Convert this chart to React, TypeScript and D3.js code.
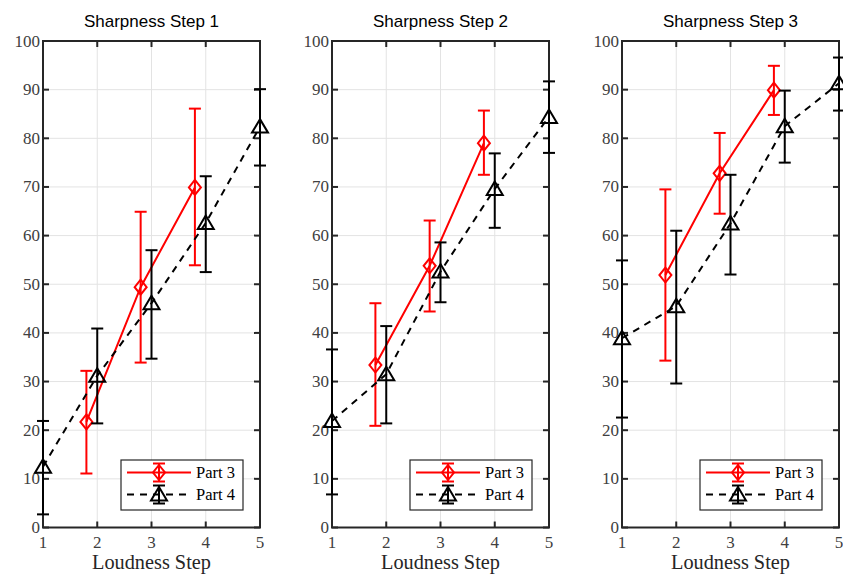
import React from "react";
import * as d3 from "d3";

// Sharpness steps shown as three side-by-side panels
const panelTitles = ["Sharpness Step 1", "Sharpness Step 2", "Sharpness Step 3"];
const seriesNames = ["Part 3", "Part 4"];

// Loudness steps (Part 4 measured on the integer steps, Part 3 shifted left)
const part4Steps = [1, 2, 3, 4, 5];
const part3Steps = [1.8, 2.8, 3.8];

// Part 3 means and error bar limits per panel
const part3Mean = [
  [21.7, 49.4, 69.9],
  [33.4, 53.8, 79.0],
  [51.9, 72.8, 89.9],
];
const part3High = [
  [32.2, 64.9, 86.1],
  [46.1, 63.1, 85.7],
  [69.5, 81.1, 94.9],
];
const part3Low = [
  [11.1, 33.9, 53.9],
  [20.9, 44.4, 72.5],
  [34.3, 64.5, 84.8],
];

// Part 4 means and error bar limits per panel
const part4Mean = [
  [12.5, 31.2, 46.1, 62.6, 82.4],
  [21.9, 31.5, 52.6, 69.6, 84.4],
  [38.9, 45.5, 62.5, 82.5, 91.3],
];
const part4High = [
  [21.9, 40.9, 57.0, 72.2, 90.1],
  [36.6, 41.4, 58.6, 76.9, 91.7],
  [54.9, 61.0, 72.5, 89.8, 96.6],
];
const part4Low = [
  [2.7, 21.4, 34.7, 52.5, 74.4],
  [6.8, 21.4, 46.3, 61.6, 77.0],
  [22.6, 29.6, 52.0, 75.0, 85.7],
];

const xTicks = [1, 2, 3, 4, 5];
const yTicks = [0, 10, 20, 30, 40, 50, 60, 70, 80, 90, 100];
const xLabel = "Loudness Step";

const W = 843;
const H = 576;
const panelLefts = [43, 332, 622];
const panelWidth = 217;
const top = 41;
const bottom = 527.5;

const RED = "#ff0000";
const BLACK = "#000000";
const AXIS = "#262626";
const TICKTXT = "#404040";
const GRID = "#e3e3e3";
const SERIF = "'Liberation Serif', 'DejaVu Serif', serif";
const SANS = "'Liberation Sans', Arial, sans-serif";
const DASH = "7,6";

const CAP = 6;

function diamondPath(cx: number, cy: number) {
  return `M${cx},${cy - 7.5}L${cx + 6},${cy}L${cx},${cy + 7.5}L${cx - 6},${cy}Z`;
}
function trianglePath(cx: number, cy: number) {
  return `M${cx},${cy - 7.5}L${cx + 8},${cy + 6}L${cx - 8},${cy + 6}Z`;
}

function ErrorBar({ x, y1, y2, color }: { x: number; y1: number; y2: number; color: string }) {
  return (
    <g stroke={color} strokeWidth={2} fill="none">
      <line x1={x} x2={x} y1={y1} y2={y2} />
      <line x1={x - CAP} x2={x + CAP} y1={y1} y2={y1} />
      <line x1={x - CAP} x2={x + CAP} y1={y2} y2={y2} />
    </g>
  );
}

function Panel({ idx }: { idx: number }) {
  const left = panelLefts[idx];
  const right = left + panelWidth;
  const x = d3.scaleLinear().domain([1, 5]).range([left, right]);
  const y = d3.scaleLinear().domain([0, 100]).range([bottom, top]);
  const line = d3
    .line<[number, number]>()
    .x((d) => x(d[0]))
    .y((d) => y(d[1]));

  const p3 = part3Steps.map((s, i) => [s, part3Mean[idx][i]] as [number, number]);
  const p4 = part4Steps.map((s, i) => [s, part4Mean[idx][i]] as [number, number]);

  const legX = right - 139;
  const legY = bottom - 67.5;
  const row1 = legY + 12.5;
  const row2 = legY + 34.5;
  const legMarkX = legX + 38;

  return (
    <g>
      {/* grid */}
      {xTicks.slice(1, -1).map((t) => (
        <line key={"gx" + t} x1={x(t)} x2={x(t)} y1={top} y2={bottom} stroke={GRID} strokeWidth={1} />
      ))}
      {yTicks.slice(1, -1).map((t) => (
        <line key={"gy" + t} x1={left} x2={right} y1={y(t)} y2={y(t)} stroke={GRID} strokeWidth={1} />
      ))}

      {/* axes box and inward ticks */}
      <rect x={left} y={top} width={right - left} height={bottom - top} fill="none" stroke={AXIS} strokeWidth={2} />
      {xTicks.map((t) => (
        <g key={"tx" + t} stroke={AXIS} strokeWidth={2}>
          <line x1={x(t)} x2={x(t)} y1={bottom} y2={bottom - 6} />
          <line x1={x(t)} x2={x(t)} y1={top} y2={top + 6} />
        </g>
      ))}
      {yTicks.map((t) => (
        <g key={"ty" + t} stroke={AXIS} strokeWidth={2}>
          <line x1={left} x2={left + 6} y1={y(t)} y2={y(t)} />
          <line x1={right} x2={right - 6} y1={y(t)} y2={y(t)} />
        </g>
      ))}

      {/* tick labels */}
      {xTicks.map((t) => (
        <text key={"lx" + t} x={x(t)} y={bottom + 20} textAnchor="middle" fontFamily={SERIF} fontSize={17} fill={TICKTXT}>
          {t}
        </text>
      ))}
      {yTicks.map((t) => (
        <text key={"ly" + t} x={left - 3} y={y(t) + 5.5} textAnchor="end" fontFamily={SERIF} fontSize={17} fill={TICKTXT}>
          {t}
        </text>
      ))}

      <text x={(left + right) / 2} y={569} textAnchor="middle" fontFamily={SERIF} fontSize={20.3} fill={AXIS}>
        {xLabel}
      </text>
      <text x={(left + right) / 2} y={top - 14} textAnchor="middle" fontFamily={SANS} fontSize={17} fill="#000">
        {panelTitles[idx]}
      </text>

      {/* Part 3 */}
      <path d={line(p3) ?? ""} fill="none" stroke={RED} strokeWidth={2} />
      {part3Steps.map((s, i) => (
        <ErrorBar key={"e3" + i} x={x(s)} y1={y(part3High[idx][i])} y2={y(part3Low[idx][i])} color={RED} />
      ))}
      {p3.map((d, i) => (
        <path key={"m3" + i} d={diamondPath(x(d[0]), y(d[1]))} fill="none" stroke={RED} strokeWidth={2} />
      ))}

      {/* Part 4 */}
      <path d={line(p4) ?? ""} fill="none" stroke={BLACK} strokeWidth={2} strokeDasharray={DASH} />
      {part4Steps.map((s, i) => (
        <ErrorBar key={"e4" + i} x={x(s)} y1={y(part4High[idx][i])} y2={y(part4Low[idx][i])} color={BLACK} />
      ))}
      {p4.map((d, i) => (
        <path key={"m4" + i} d={trianglePath(x(d[0]), y(d[1]))} fill="none" stroke={BLACK} strokeWidth={2} />
      ))}

      {/* legend */}
      <rect x={legX} y={legY} width={122} height={50} fill="#fff" stroke={AXIS} strokeWidth={1.2} />
      <line x1={legX + 6} x2={legX + 70} y1={row1} y2={row1} stroke={RED} strokeWidth={2} />
      <ErrorBar x={legMarkX} y1={row1 - 9} y2={row1 + 9} color={RED} />
      <path d={diamondPath(legMarkX, row1)} fill="none" stroke={RED} strokeWidth={2} />
      <text x={legX + 75} y={row1 + 5.5} fontFamily={SERIF} fontSize={16.5} fill="#000">
        {seriesNames[0]}
      </text>
      <line x1={legX + 6} x2={legX + 70} y1={row2} y2={row2} stroke={BLACK} strokeWidth={2} strokeDasharray={DASH} />
      <ErrorBar x={legMarkX} y1={row2 - 9} y2={row2 + 9} color={BLACK} />
      <path d={trianglePath(legMarkX, row2)} fill="none" stroke={BLACK} strokeWidth={2} />
      <text x={legX + 75} y={row2 + 5.5} fontFamily={SERIF} fontSize={16.5} fill="#000">
        {seriesNames[1]}
      </text>
    </g>
  );
}

export default function App() {
  return (
    <svg
      width={W}
      height={H}
      viewBox={`0 0 ${W} ${H}`}
      style={{ position: "absolute", left: 0, top: 0, background: "#fff" }}
    >
      <rect width={W} height={H} fill="#fff" />
      {panelTitles.map((_, i) => (
        <Panel key={i} idx={i} />
      ))}
    </svg>
  );
}
